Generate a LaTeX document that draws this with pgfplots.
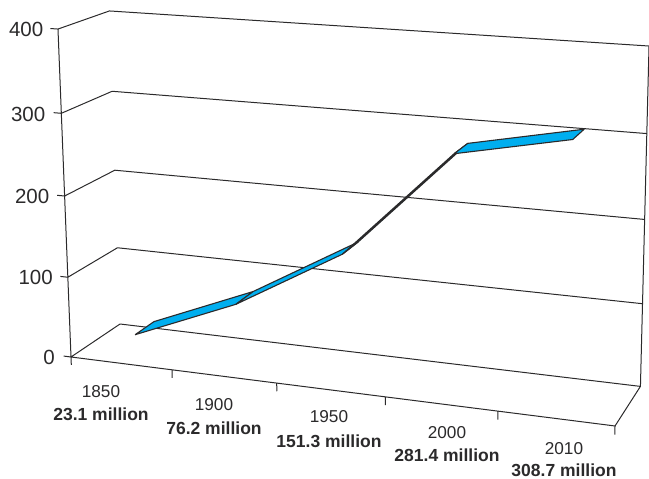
\documentclass[border=0pt]{standalone}
\usepackage{fontspec}
\setmainfont{Liberation Sans}
\usepackage{pgfplots}
\pgfplotsset{compat=1.18}
\definecolor{ink}{HTML}{2B2A2B}
\definecolor{ribbon}{HTML}{00AEEF}
% Perspective projection of the chart box onto the page:
% u runs along the categories (0..1), d into the depth (0..1), v is the value (0..400).
\pgfplotsset{
  table/box/.style={
    x expr={(71+489.9*\thisrow{u}+55*\thisrow{d}-15.1*\thisrow{v}/400)/(1-0.088*\thisrow{u}+0.0497*\thisrow{d}-0.036*\thisrow{v}/400)},
    y expr={(357+31.5*\thisrow{u}-16.9*\thisrow{d}-329*\thisrow{v}/400)/(1-0.088*\thisrow{u}+0.0497*\thisrow{d}-0.036*\thisrow{v}/400)},
  },
  frame/.style={draw=ink, line width=1pt, no markers, line join=round},
  band/.style={draw=ink, line width=1.1pt, fill=ribbon, no markers, line join=round},
}
\newcommand{\valuelabel}[3]{\node[anchor=east,inner sep=0pt,text=ink,font=\fontsize{20.5}{24}\selectfont] at (axis cs:#1,#2) {#3};}
\newcommand{\catlabel}[5]{%
  \node[inner sep=0pt,text=ink,font=\fontsize{17.2}{20}\selectfont] at (axis cs:#1,#2) {#3};
  \node[inner sep=0pt,text=ink,font=\fontsize{17.5}{20}\selectfont\bfseries] at (axis cs:#1,#4) {#5};}
\begin{document}
\begin{tikzpicture}
\begin{axis}[
  scale only axis, width=649pt, height=479pt,
  xmin=0, xmax=649, ymin=0, ymax=479, y dir=reverse,
  axis lines=none, clip=true,
]
% page frame: keeps the picture at its full size
\path (axis cs:0,0) rectangle (axis cs:649,479);
% walls, floor and tick marks
\addplot[frame] table[box] {
u d v
0 0 0
0 1 0
1 1 0
1 0 0
0 0 0

0 0 100
0 1 100
1 1 100

0 0 200
0 1 200
1 1 200

0 0 300
0 1 300
1 1 300

0 0 400
0 1 400
1 1 400

0 0 -10
0 0 400

1 1 0
1 1 400

1 0 -10
1 0 0

0.2 0 -10
0.2 0 0

0.4 0 -10
0.4 0 0

0.6 0 -10
0.6 0 0

0.8 0 -10
0.8 0 0

-0.015 0 0
0 0 0

-0.015 0 100
0 0 100

-0.015 0 200
0 0 200

-0.015 0 300
0 0 300

-0.015 0 400
0 0 400
};
% population ribbon, one panel per interval (values in millions)
\addplot[band] table[box] {
u d v
0.1 0.3 23.1
0.3 0.3 76.2
0.3 0.7 76.2
0.1 0.7 23.1
0.1 0.3 23.1
};
\addplot[band] table[box] {
u d v
0.3 0.3 76.2
0.502 0.3 151.3
0.502 0.7 151.3
0.3 0.7 76.2
0.3 0.3 76.2
};
\addplot[band] table[box] {
u d v
0.502 0.3 151.3
0.703 0.3 281.4
0.703 0.7 281.4
0.502 0.7 151.3
0.502 0.3 151.3
};
\addplot[band] table[box] {
u d v
0.703 0.3 281.4
0.906 0.3 308.7
0.906 0.7 308.7
0.703 0.7 281.4
0.703 0.3 281.4
};
% value axis labels
\valuelabel{43.5}{29}{400}
\valuelabel{45.5}{114}{300}
\valuelabel{49.5}{196}{200}
\valuelabel{53}{277}{100}
\valuelabel{55}{357}{0}
% category labels
\catlabel{101}{392}{1850}{414}{23.1 million}
\catlabel{214}{405}{1900}{428}{76.2 million}
\catlabel{329}{417}{1950}{441}{151.3 million}
\catlabel{447}{433}{2000}{455}{281.4 million}
\catlabel{564}{449}{2010}{470.5}{308.7 million}
\end{axis}
\end{tikzpicture}
\end{document}
